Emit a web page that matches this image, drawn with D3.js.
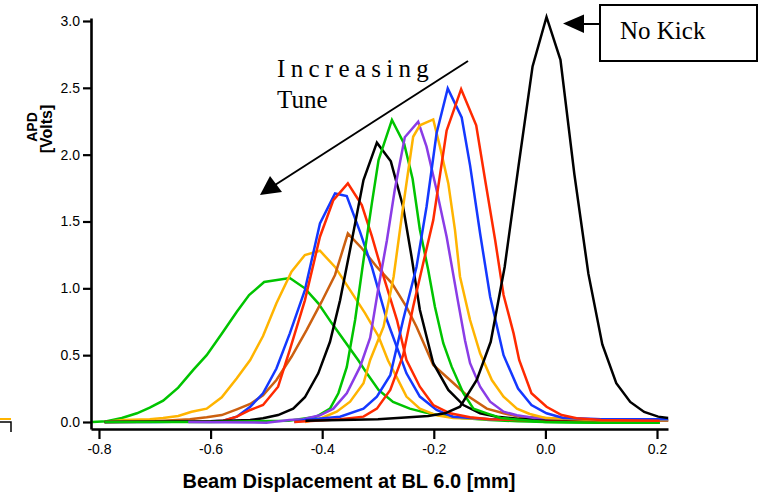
<!DOCTYPE html>
<html><head><meta charset="utf-8">
<script src="https://cdn.jsdelivr.net/npm/d3@7"></script>
<style>body{margin:0;background:#fff}svg{display:block}</style>
</head><body><svg id="c" width="761" height="493"></svg>
<script>
// ---- data (x in mm, y in Volts) ----
const xTicks = [-0.8, -0.6, -0.4, -0.2, 0.0, 0.2];
const yTicks = [0.0, 0.5, 1.0, 1.5, 2.0, 2.5, 3.0];
const xTitle = "Beam Displacement at BL 6.0 [mm]";
const yTitle = ["APD", "[Volts]"];

const green1 = [[-0.812,0.0],[-0.786,0.005],[-0.759,0.03],[-0.732,0.065],[-0.709,0.107],[-0.685,0.16],[-0.658,0.257],[-0.631,0.39],[-0.607,0.50],[-0.580,0.66],[-0.553,0.825],[-0.531,0.95],[-0.504,1.047],[-0.458,1.077],[-0.431,1.0],[-0.407,0.888],[-0.383,0.74],[-0.359,0.60],[-0.335,0.46],[-0.320,0.364],[-0.299,0.24],[-0.273,0.15],[-0.243,0.10],[-0.215,0.07],[-0.19,0.05],[-0.15,0.03],[-0.1,0.015],[-0.05,0.005],[0.0,0.0],[0.1,-0.005],[0.205,-0.005]];
const orange1 = [[-0.79,0.0],[-0.756,0.015],[-0.709,0.02],[-0.685,0.03],[-0.658,0.045],[-0.634,0.077],[-0.607,0.10],[-0.580,0.185],[-0.553,0.327],[-0.529,0.464],[-0.506,0.643],[-0.482,0.888],[-0.455,1.124],[-0.431,1.249],[-0.404,1.281],[-0.377,1.16],[-0.350,0.987],[-0.323,0.813],[-0.299,0.64],[-0.282,0.46],[-0.267,0.34],[-0.249,0.19],[-0.225,0.10],[-0.195,0.05],[-0.165,0.03],[-0.1,0.02],[0.0,0.015],[0.1,0.01],[0.22,0.01]];
const blue1 = [[-0.79,0.0],[-0.7,0.0],[-0.6,0.005],[-0.577,0.01],[-0.553,0.04],[-0.529,0.114],[-0.506,0.215],[-0.482,0.40],[-0.458,0.663],[-0.431,0.987],[-0.404,1.486],[-0.377,1.71],[-0.356,1.69],[-0.332,1.42],[-0.311,1.16],[-0.284,0.763],[-0.249,0.364],[-0.225,0.19],[-0.195,0.09],[-0.166,0.04],[-0.1,0.02],[0.0,0.02],[0.1,0.02],[0.22,0.015]];
const red1 = [[-0.79,0.0],[-0.6,0.003],[-0.577,0.01],[-0.553,0.04],[-0.529,0.09],[-0.506,0.127],[-0.479,0.264],[-0.458,0.54],[-0.431,0.91],[-0.404,1.386],[-0.380,1.66],[-0.354,1.785],[-0.329,1.623],[-0.311,1.39],[-0.290,1.087],[-0.266,0.763],[-0.249,0.464],[-0.225,0.264],[-0.201,0.127],[-0.171,0.065],[-0.135,0.035],[-0.1,0.02],[0.0,0.01],[0.1,0.01],[0.205,0.01]];
const brown1 = [[-0.79,0.0],[-0.7,0.005],[-0.637,0.02],[-0.607,0.035],[-0.580,0.052],[-0.553,0.095],[-0.529,0.135],[-0.506,0.2],[-0.482,0.314],[-0.455,0.488],[-0.428,0.688],[-0.401,0.90],[-0.377,1.10],[-0.354,1.41],[-0.329,1.30],[-0.302,1.16],[-0.275,1.037],[-0.249,0.862],[-0.231,0.713],[-0.201,0.426],[-0.171,0.314],[-0.141,0.20],[-0.105,0.10],[-0.075,0.065],[-0.046,0.04],[0.0,0.03],[0.1,0.015],[0.22,0.01]];
const black1 = [[-0.79,0.0],[-0.6,0.005],[-0.529,0.015],[-0.506,0.028],[-0.479,0.052],[-0.452,0.10],[-0.431,0.185],[-0.407,0.364],[-0.386,0.60],[-0.368,0.91],[-0.350,1.29],[-0.326,1.81],[-0.302,2.09],[-0.277,1.95],[-0.255,1.61],[-0.240,1.24],[-0.225,0.84],[-0.201,0.44],[-0.174,0.24],[-0.147,0.127],[-0.117,0.065],[-0.087,0.04],[-0.05,0.025],[0.0,0.02],[0.1,0.02],[0.205,0.02]];
const green2 = [[-0.79,0.0],[-0.6,0.0],[-0.46,0.01],[-0.41,0.04],[-0.386,0.10],[-0.371,0.215],[-0.356,0.41],[-0.341,0.763],[-0.326,1.21],[-0.311,1.636],[-0.299,1.96],[-0.275,2.26],[-0.253,2.08],[-0.238,1.82],[-0.225,1.44],[-0.210,1.137],[-0.198,0.862],[-0.183,0.589],[-0.168,0.414],[-0.147,0.215],[-0.129,0.10],[-0.105,0.065],[-0.08,0.03],[0.0,0.0],[0.1,-0.005],[0.205,-0.005]];
const purple1 = [[-0.64,0.0],[-0.5,-0.005],[-0.459,0.015],[-0.434,0.02],[-0.404,0.05],[-0.380,0.10],[-0.356,0.215],[-0.332,0.414],[-0.314,0.63],[-0.299,1.01],[-0.284,1.36],[-0.270,1.735],[-0.252,2.13],[-0.228,2.246],[-0.213,2.06],[-0.195,1.735],[-0.177,1.386],[-0.157,0.91],[-0.144,0.61],[-0.135,0.44],[-0.117,0.264],[-0.099,0.152],[-0.075,0.077],[-0.051,0.05],[-0.02,0.03],[0.1,0.02],[0.205,0.015]];
const orange2 = [[-0.431,0.0],[-0.401,0.03],[-0.374,0.077],[-0.350,0.152],[-0.326,0.29],[-0.314,0.464],[-0.290,0.713],[-0.272,1.087],[-0.255,1.61],[-0.237,2.134],[-0.225,2.22],[-0.201,2.264],[-0.189,2.06],[-0.174,1.785],[-0.162,1.436],[-0.153,1.087],[-0.135,0.763],[-0.117,0.514],[-0.096,0.314],[-0.075,0.19],[-0.051,0.10],[-0.028,0.06],[0.0,0.03],[0.1,0.015],[0.22,0.015]];
const blue2 = [[-0.45,0.0],[-0.431,0.015],[-0.368,0.04],[-0.326,0.10],[-0.302,0.19],[-0.278,0.35],[-0.255,0.763],[-0.231,1.16],[-0.213,1.61],[-0.195,2.16],[-0.175,2.496],[-0.150,2.278],[-0.135,1.92],[-0.117,1.41],[-0.099,0.937],[-0.075,0.50],[-0.049,0.25],[-0.025,0.127],[0.002,0.065],[0.032,0.03],[0.1,0.02],[0.22,0.02]];
const red2 = [[-0.45,0.0],[-0.368,0.02],[-0.326,0.04],[-0.302,0.10],[-0.278,0.24],[-0.255,0.50],[-0.237,0.862],[-0.219,1.187],[-0.201,1.51],[-0.177,2.18],[-0.151,2.49],[-0.124,2.22],[-0.108,1.81],[-0.090,1.36],[-0.075,0.95],[-0.057,0.663],[-0.047,0.464],[-0.025,0.215],[0.002,0.114],[0.029,0.052],[0.056,0.028],[0.1,0.015],[0.205,0.01]];
const noKick = [[-0.43,0.01],[-0.30,0.02],[-0.21,0.045],[-0.18,0.065],[-0.153,0.114],[-0.123,0.314],[-0.098,0.60],[-0.073,1.16],[-0.048,1.92],[-0.023,2.66],[0.002,3.03],[0.027,2.71],[0.052,1.85],[0.077,1.11],[0.102,0.58],[0.127,0.29],[0.152,0.15],[0.177,0.075],[0.202,0.04],[0.22,0.03]];

const seriesList = [
  {data: green1, color: "#00c400"},
  {data: orange1, color: "#ffb400"},
  {data: brown1, color: "#cc6010"},
  {data: blue1, color: "#1438ff"},
  {data: red1, color: "#ff2a00"},
  {data: black1, color: "#000000"},
  {data: green2, color: "#00c400"},
  {data: purple1, color: "#8a3ce6"},
  {data: orange2, color: "#ffb400"},
  {data: blue2, color: "#1438ff"},
  {data: red2, color: "#ff2a00"},
  {data: noKick, color: "#000000"}
];

// ---- drawing ----
const svg = d3.select("#c");
const x = d3.scaleLinear().domain([-0.8143, 0.2197]).range([91, 668]);
const y = d3.scaleLinear().domain([-0.0524, 3.0224]).range([429, 18]);

// stray marks at left edge
svg.append("line").attr("x1",0).attr("x2",11).attr("y1",419).attr("y2",419).attr("stroke","#ffb400").attr("stroke-width",2);
svg.append("path").attr("d","M0,422H11V432").attr("fill","none").attr("stroke","#000").attr("stroke-width",1.5);

const line = d3.line().x(d => x(d[0])).y(d => y(d[1]));
svg.append("g").selectAll("path").data(seriesList).join("path")
  .attr("d", s => line(s.data))
  .attr("fill","none").attr("stroke", s => s.color)
  .attr("stroke-width", 2.5).attr("stroke-linejoin","miter");

const fmt = d => d.toFixed(1);
const gx = svg.append("g").attr("transform","translate(0,429)")
  .call(d3.axisBottom(x).tickValues(xTicks).tickFormat(fmt).tickSize(10).tickSizeOuter(0).tickPadding(5));
const gy = svg.append("g").attr("transform","translate(91,0)")
  .call(d3.axisLeft(y).tickValues(yTicks).tickFormat(fmt).tickSize(8).tickSizeOuter(0).tickPadding(3));
[gx, gy].forEach(g => {
  g.select(".domain").attr("stroke","#000").attr("stroke-width",2.6);
  g.selectAll(".tick line").attr("stroke","#000").attr("stroke-width",2.2);
  g.selectAll(".tick text").attr("fill","#000").style("font-family","Arial, 'Liberation Sans', sans-serif").style("font-size","14px");
});

svg.append("text").attr("x",349).attr("y",488).attr("text-anchor","middle")
  .style("font-family","Arial, 'Liberation Sans', sans-serif").style("font-weight","bold").style("font-size","20px")
  .text(xTitle);
svg.append("text").attr("transform","translate(37,127) rotate(-90)").attr("text-anchor","middle")
  .style("font-family","Arial, 'Liberation Sans', sans-serif").style("font-weight","bold").style("font-size","14px")
  .text(yTitle[0]);
svg.append("text").attr("transform","translate(52,129) rotate(-90)").attr("text-anchor","middle")
  .style("font-family","Arial, 'Liberation Sans', sans-serif").style("font-weight","bold").style("font-size","16px")
  .text(yTitle[1]);

// annotations
const serif = "'Times New Roman', 'Liberation Serif', serif";
svg.append("text").attr("x",277).attr("y",77).style("font-family",serif).style("font-size","25px").style("letter-spacing","5.3px").text("Increasing");
svg.append("text").attr("x",277).attr("y",108).style("font-family",serif).style("font-size","25px").text("Tune");
svg.append("line").attr("x1",468).attr("y1",61).attr("x2",275).attr("y2",185).attr("stroke","#000").attr("stroke-width",2);
svg.append("path").attr("d","M260,195L270,176L282,192Z").attr("fill","#000");

svg.append("rect").attr("x",600).attr("y",5).attr("width",157).attr("height",56).attr("fill","#fff").attr("stroke","#000").attr("stroke-width",2);
svg.append("text").attr("x",620).attr("y",39).style("font-family",serif).style("font-size","25px").text("No Kick");
svg.append("line").attr("x1",582).attr("y1",24).attr("x2",600).attr("y2",24).attr("stroke","#000").attr("stroke-width",2);
svg.append("path").attr("d","M563,23.5L584,14.5L584,33Z").attr("fill","#000");
</script></body></html>
